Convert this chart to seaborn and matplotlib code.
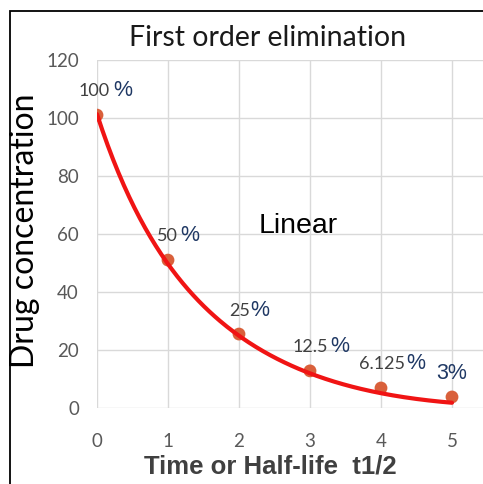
import numpy as np
import pandas as pd
import seaborn as sns
import matplotlib
matplotlib.use("Agg")
import matplotlib.pyplot as plt
from matplotlib.patches import Rectangle

# ---- data ----
half_lives = [0, 1, 2, 3, 4, 5]
concentration = [101, 51, 25.5, 12.8, 6.9, 3.8]
curve_values = [101, 50, 25, 11.7, 5.2, 1.8]   # red trend line read at each half-life
pct_numbers = ["100", "50", "25", "12.5", "6.125", "3"]
y_ticks = [0, 20, 40, 60, 80, 100, 120]

sns.set_theme(style="white")
plt.rcParams['font.family'] = ['Lato', 'DejaVu Sans']

W, H = 483, 484
fig = plt.figure(figsize=(W / 100, H / 100), dpi=100)
fig.patch.set_facecolor("white")

x0, x1, y0, y1 = 97, 483, 60, 408   # pixel box of plot area
ax = fig.add_axes([x0 / W, 1 - y1 / H, (x1 - x0) / W, (y1 - y0) / H])
ax.set_facecolor("white")

# trend line (smooth fit in log space)
df_curve = pd.DataFrame({"t": half_lives, "c": curve_values})
coef = np.polyfit(df_curve["t"], np.log(df_curve["c"]), 3)
tt = np.linspace(0, 5, 200)
fit = pd.DataFrame({"t": tt, "c": np.exp(np.polyval(coef, tt))})
sns.lineplot(data=fit, x="t", y="c", ax=ax, color="#F01414", lw=3.0, zorder=4)

df = pd.DataFrame({"t": half_lives, "c": concentration})
sns.scatterplot(data=df, x="t", y="c", ax=ax, color="#D9603B", s=85,
                edgecolor="none", zorder=3)

ax.set_xlim(0, (x1 - x0) / 71.0)
ax.set_ylim(0, 120)
ax.set_xticks(half_lives)
ax.set_yticks(y_ticks)
ax.grid(True, color="#D9D9D9", lw=1.0)
ax.set_axisbelow(True)
for s in ax.spines.values():
    s.set_visible(False)
ax.tick_params(axis="x", length=0, pad=18, labelsize=13.5, labelcolor="#595959")
ax.tick_params(axis="y", length=0, pad=13, labelsize=13.5, labelcolor="#595959")
ax.set_xlabel("")
ax.set_ylabel("")

# percentage labels
num_dx = [13, 10, 11, 18, 24]
pct_dx = [16, 12, 11, 20, 25]
dys = [19, 19, 18, 19, 19]
for i in range(5):
    ax.annotate(pct_numbers[i], (half_lives[i], concentration[i]),
                xytext=(num_dx[i], dys[i]), textcoords="offset pixels",
                ha="right", va="baseline", fontsize=13, color="#404040", zorder=6)
    ax.annotate("%", (half_lives[i], concentration[i]),
                xytext=(pct_dx[i], dys[i]), textcoords="offset pixels",
                ha="left", va="baseline", fontsize=15.5, color="#1F3864",
                family=["Liberation Sans", "DejaVu Sans"], zorder=6)
ax.annotate(pct_numbers[5] + "%", (half_lives[5], concentration[5]),
            xytext=(-16, 18), textcoords="offset pixels",
            ha="left", va="baseline", fontsize=15.5, color="#1F3864",
            family=["Liberation Sans", "DejaVu Sans"], zorder=6)

ax.text(2.27, 60.5, "Linear", fontsize=20.5, color="black",
        family=["Liberation Sans", "DejaVu Sans"], ha="left", va="baseline")

# titles
fig.text(268 / W, 1 - 38 / H, "First order elimination", fontsize=20.5,
         color="#1a1a1a", ha="center", va="center")
fig.text(25 / W, 1 - 231 / H, "Drug concentration", fontsize=23,
         color="black", ha="center", va="center", rotation=90)
fig.text(270 / W, 1 - 467 / H, "Time or Half-life  t1/2", fontsize=18.5,
         color="#404040", ha="center", va="center", fontweight="bold",
         family=["Liberation Sans Narrow", "Liberation Sans", "DejaVu Sans"])

# frame lines (left and top)
fig.add_artist(Rectangle((10 / W, -0.1), 1.2, 1 - 11 / H + 0.1,
                         transform=fig.transFigure, fill=False,
                         edgecolor="black", lw=1.3))

fig.savefig("out.png", dpi=100, facecolor="white")
